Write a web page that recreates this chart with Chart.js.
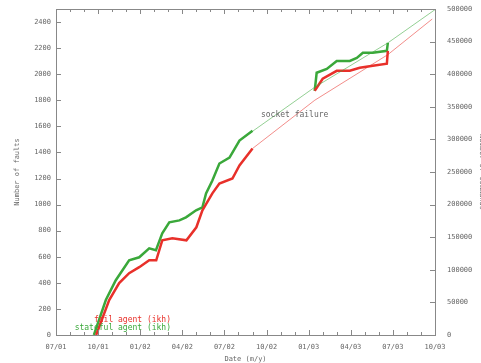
<!DOCTYPE html>
<html>
<head>
<meta charset="utf-8">
<script src="https://cdn.jsdelivr.net/npm/chart.js@4/dist/chart.umd.min.js"></script>
<style>
  html, body { margin: 0; padding: 0; background: #fff; overflow: hidden; }
  #wrap { width: 488px; height: 363px; }
</style>
</head>
<body>
<div id="wrap"><canvas id="faultChart" width="488" height="363"></canvas></div>
<script>
// x = months since 07/01
const tickLabels = ['07/01', '10/01', '01/02', '04/02', '07/02', '10/02', '01/03', '04/03', '07/03', '10/03'];

// stateful agent (green, thick) - null marks the gap
const greenMonths = [2.7, 3.55, 4.26, 5.21, 5.93, 6.64, 7.12, 7.57, 8.07, 8.79, 9.26, 9.98, 10.43, 10.69, 11.14, 11.64, 12.36, 13.07, 14.0, 16.0, 18.43, 18.57, 19.29, 20.0, 20.93, 21.43, 21.86, 22.57, 23.57, 23.64];
const greenFaults = [0, 268, 420, 573, 596, 665, 650, 780, 864, 879, 902, 956, 979, 1086, 1185, 1315, 1361, 1491, 1567, null, 1873, 2011, 2041, 2102, 2102, 2125, 2164, 2164, 2179, 2240];

// fail agent (red, thick)
const redMonths = [2.86, 3.79, 4.5, 5.21, 5.93, 6.64, 7.14, 7.57, 8.29, 9.29, 10.0, 10.43, 11.14, 11.64, 12.57, 13.07, 14.0, 16.0, 18.43, 19.0, 20.0, 20.93, 21.64, 22.57, 23.57, 23.64];
const redFaults = [0, 268, 398, 474, 520, 573, 573, 726, 742, 726, 826, 956, 1086, 1162, 1200, 1300, 1430, null, 1873, 1965, 2026, 2026, 2049, 2064, 2080, 2179];

// thin trend lines across the gap and past the end
const greenTrendMonths = [13.07, 18.43, 23.64, 27.0];
const greenTrendFaults = [1491, 1900, 2240, 2495];
const redTrendMonths = [14.0, 18.43, 23.64, 26.8];
const redTrendFaults = [1430, 1800, 2150, 2423];

const toPoints = (xs, ys) => xs.map((m, i) => ({ x: m, y: ys[i] }));

const FONT = 'DejaVu Sans Mono';
const GREY = '#666';
const noGrid = { display: false, drawTicks: false, tickLength: 0 };
const noPad = s => { s.paddingTop = 0; s.paddingBottom = 0; s.paddingLeft = 0; s.paddingRight = 0; };

// gnuplot style inward ticks, annotation and key
const decor = {
  id: 'decor',
  afterDatasetsDraw(chart) {
    const { ctx, chartArea: a, scales } = chart;
    ctx.save();
    ctx.strokeStyle = '#888';
    ctx.lineWidth = 1;
    ctx.beginPath();
    for (let m = 0; m <= 27; m++) {
      const px = Math.round(scales.x.getPixelForValue(m)) + 0.5;
      const len = m % 3 === 0 ? 5 : 3;
      ctx.moveTo(px, a.bottom); ctx.lineTo(px, a.bottom - len);
      ctx.moveTo(px, a.top); ctx.lineTo(px, a.top + len);
    }
    scales.y.ticks.forEach(t => {
      const py = Math.round(scales.y.getPixelForValue(t.value)) + 0.5;
      ctx.moveTo(a.left, py); ctx.lineTo(a.left + 5, py);
    });
    scales.y1.ticks.forEach(t => {
      const py = Math.round(scales.y1.getPixelForValue(t.value)) + 0.5;
      ctx.moveTo(a.right, py); ctx.lineTo(a.right - 5, py);
    });
    ctx.stroke();
    ctx.strokeRect(a.left + 0.5, a.top + 0.5, a.right - a.left, a.bottom - a.top);

    ctx.font = '8px "' + FONT + '"';
    ctx.textBaseline = 'middle';
    ctx.fillStyle = GREY;
    ctx.textAlign = 'left';
    ctx.fillText('socket failure', scales.x.getPixelForValue(14.6), scales.y.getPixelForValue(1690));

    ctx.textAlign = 'right';
    ctx.fillStyle = '#e8302a';
    ctx.fillText('fail agent (ikh)', a.left + 115, a.bottom - 15);
    ctx.fillStyle = '#3aa83a';
    ctx.fillText('stateful agent (ikh)', a.left + 115, a.bottom - 7);
    ctx.restore();
  }
};

const ctx = document.getElementById('faultChart').getContext('2d');
const chart = new Chart(ctx, {
  type: 'line',
  data: {
    datasets: [
      {
        label: 'fail agent trend',
        data: toPoints(redTrendMonths, redTrendFaults),
        borderColor: 'rgba(232, 48, 42, 0.55)',
        borderWidth: 1,
        pointRadius: 0
      },
      {
        label: 'stateful agent trend',
        data: toPoints(greenTrendMonths, greenTrendFaults),
        borderColor: 'rgba(58, 168, 58, 0.55)',
        borderWidth: 1,
        pointRadius: 0
      },
      {
        label: 'fail agent (ikh)',
        data: toPoints(redMonths, redFaults),
        borderColor: '#e8302a',
        borderWidth: 2.5,
        pointRadius: 0,
        spanGaps: false
      },
      {
        label: 'stateful agent (ikh)',
        data: toPoints(greenMonths, greenFaults),
        borderColor: '#3aa83a',
        borderWidth: 2.5,
        pointRadius: 0,
        spanGaps: false
      }
    ]
  },
  options: {
    responsive: false,
    animation: false,
    layout: { padding: { top: 9, left: 0, right: 0, bottom: 0 } },
    plugins: { legend: { display: false }, tooltip: { enabled: false } },
    scales: {
      x: {
        type: 'linear',
        min: 0,
        max: 27,
        grid: noGrid,
        border: { display: false },
        ticks: {
          stepSize: 3,
          autoSkip: false,
          maxRotation: 0,
          padding: 8,
          color: GREY,
          font: { family: FONT, size: 7 },
          callback: v => tickLabels[v / 3] || ''
        },
        title: { display: true, text: 'Date (m/y)', color: GREY, font: { family: FONT, size: 7 }, padding: 0 },
        afterFit: s => { noPad(s); s.height = 28; }
      },
      y: {
        position: 'left',
        min: 0,
        max: 2500,
        grid: noGrid,
        border: { display: false },
        afterBuildTicks: s => { s.ticks = s.ticks.filter(t => t.value % 200 === 0); },
        ticks: { stepSize: 200, padding: 5, color: GREY, font: { family: FONT, size: 7 }, callback: v => String(v) },
        title: { display: true, text: 'Number of faults', color: GREY, font: { family: FONT, size: 7 }, padding: 13 },
        afterFit: s => { noPad(s); s.width = 56; }
      },
      y1: {
        position: 'right',
        min: 0,
        max: 500000,
        grid: noGrid,
        border: { display: false },
        ticks: { stepSize: 50000, padding: 12, color: GREY, font: { family: FONT, size: 7 }, callback: v => String(v) },
        title: { display: true, text: 'Number of commands', color: GREY, font: { family: FONT, size: 7 }, padding: 2 },
        afterFit: s => { noPad(s); s.width = 53; }
      }
    }
  },
  plugins: [decor]
});
</script>
</body>
</html>
